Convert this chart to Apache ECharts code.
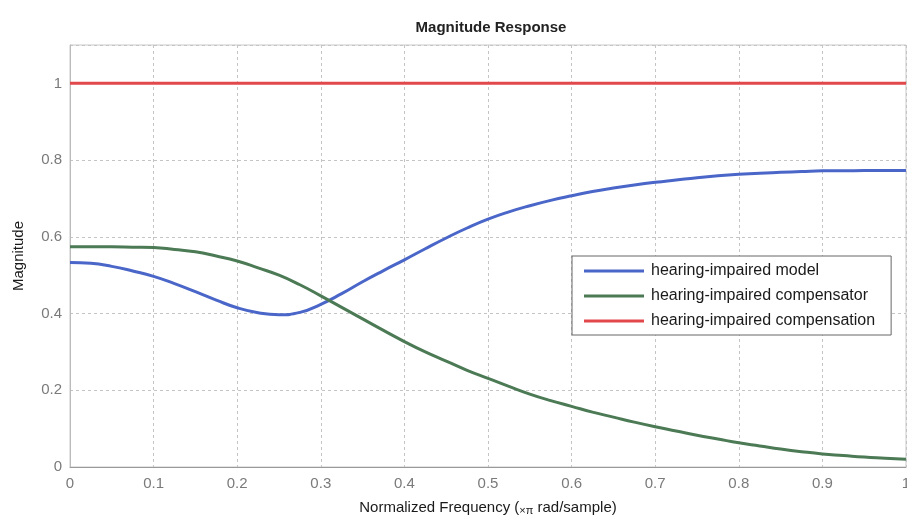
<!DOCTYPE html>
<html>
<head>
<meta charset="utf-8">
<script src="https://cdn.jsdelivr.net/npm/echarts@6/dist/echarts.min.js"></script>
<style>
  html, body { margin: 0; padding: 0; background: #fff; }
  #chart { width: 907px; height: 516px; }
</style>
</head>
<body>
<div id="chart"></div>
<script>
// Normalized frequency samples (x pi rad/sample)
const freq = [0, 0.025, 0.05, 0.075, 0.1, 0.125, 0.15, 0.175, 0.2, 0.225, 0.25, 0.275, 0.3,
              0.325, 0.35, 0.375, 0.4, 0.425, 0.45, 0.475, 0.5, 0.525, 0.55, 0.575, 0.6, 0.625,
              0.65, 0.675, 0.7, 0.725, 0.75, 0.775, 0.8, 0.825, 0.85, 0.875, 0.9, 0.925, 0.95, 0.975, 1];

// Magnitude of the hearing-impaired model
const modelMag = [0.533, 0.531, 0.523, 0.511, 0.497, 0.478, 0.457, 0.435, 0.415, 0.402, 0.397, 0.403, 0.424,
                  0.452, 0.483, 0.512, 0.540, 0.569, 0.597, 0.623, 0.646, 0.665, 0.681, 0.695, 0.707, 0.718,
                  0.727, 0.735, 0.742, 0.748, 0.754, 0.759, 0.763, 0.766, 0.768, 0.770, 0.772, 0.772, 0.773, 0.773, 0.773];

// Magnitude of the compensator
const compensatorMag = [0.574, 0.574, 0.574, 0.573, 0.572, 0.567, 0.561, 0.550, 0.537, 0.519, 0.500, 0.475, 0.446,
                        0.416, 0.386, 0.356, 0.327, 0.300, 0.276, 0.252, 0.231, 0.210, 0.190, 0.173, 0.158, 0.143,
                        0.130, 0.117, 0.105, 0.094, 0.083, 0.073, 0.063, 0.055, 0.047, 0.040, 0.034, 0.030, 0.026, 0.023, 0.020];

// Overall compensated magnitude (flat)
const compensationFreq = [0, 1];
const compensationMag = [1, 1];

const seriesNames = ['hearing-impaired model', 'hearing-impaired compensator', 'hearing-impaired compensation'];
const seriesColors = ['#4a66c8', '#4b7a55', '#e2474b'];

const pairs = (xs, ys) => xs.map((f, i) => [f, ys[i]]);

const narrow = '"Liberation Sans Narrow", "Arial Narrow", "Liberation Sans", Arial, sans-serif';
const regular = '"Liberation Sans", Arial, sans-serif';

const chart = echarts.init(document.getElementById('chart'), null, { renderer: 'canvas' });

chart.setOption({
  backgroundColor: '#ffffff',
  animation: false,
  title: {
    text: 'Magnitude Response',
    left: 486,
    top: 15,
    textAlign: 'center',
    textStyle: { fontFamily: narrow, fontSize: 15, fontWeight: 'bold', color: '#222' }
  },
  grid: {
    left: 70, right: 1, top: 45, bottom: 49,
    outerBoundsMode: 'none',
    containLabel: false,
    show: true, borderColor: '#c8c8c8', borderWidth: 1, backgroundColor: 'transparent'
  },
  legend: {
    orient: 'vertical',
    left: 572, top: 256,
    padding: [7, 16, 6, 12],
    itemGap: 9,
    itemWidth: 60, itemHeight: 3,
    icon: 'rect',
    backgroundColor: '#ffffff',
    borderColor: '#666', borderWidth: 1,
    textStyle: { fontFamily: narrow, fontSize: 16, color: '#1a1a1a', padding: [0, 0, 0, 2] },
    data: seriesNames
  },
  xAxis: {
    type: 'value',
    min: 0, max: 1, interval: 0.1,
    name: '{a|Normalized Frequency (}{b|×π}{a| rad/sample)}',
    nameLocation: 'middle',
    nameGap: 32,
    nameTextStyle: {
      rich: {
        a: { fontFamily: narrow, fontSize: 15, color: '#1a1a1a' },
        b: { fontFamily: regular, fontSize: 11, color: '#1a1a1a', verticalAlign: 'bottom', padding: [6, 0, 0, 0] }
      }
    },
    axisLine: { show: true, lineStyle: { color: '#999', width: 1 } },
    axisTick: { show: false },
    axisLabel: { fontFamily: regular, fontSize: 15, color: '#7a7a7a', margin: 9 },
    splitLine: { show: true, lineStyle: { color: '#c4c4c4', type: [3, 3], width: 1 } }
  },
  yAxis: {
    type: 'value',
    min: 0, max: 1.1, interval: 0.2,
    name: 'Magnitude',
    nameLocation: 'middle',
    nameGap: 44,
    nameTextStyle: { fontFamily: narrow, fontSize: 15, color: '#1a1a1a' },
    axisLine: { show: true, lineStyle: { color: '#bbb', width: 1 } },
    axisTick: { show: false },
    axisLabel: { fontFamily: regular, fontSize: 15, color: '#7a7a7a', margin: 8, showMaxLabel: false },
    splitLine: { show: true, lineStyle: { color: '#c4c4c4', type: [3, 3], width: 1 } }
  },
  series: [
    {
      name: seriesNames[0], type: 'line', smooth: 0.5, symbol: 'none',
      data: pairs(freq, modelMag), color: seriesColors[0],
      lineStyle: { width: 3, color: seriesColors[0] }
    },
    {
      name: seriesNames[1], type: 'line', smooth: 0.5, symbol: 'none',
      data: pairs(freq, compensatorMag), color: seriesColors[1],
      lineStyle: { width: 3, color: seriesColors[1] }
    },
    {
      name: seriesNames[2], type: 'line', symbol: 'none',
      data: pairs(compensationFreq, compensationMag), color: seriesColors[2],
      lineStyle: { width: 3, color: seriesColors[2] }
    }
  ]
});
</script>
</body>
</html>
